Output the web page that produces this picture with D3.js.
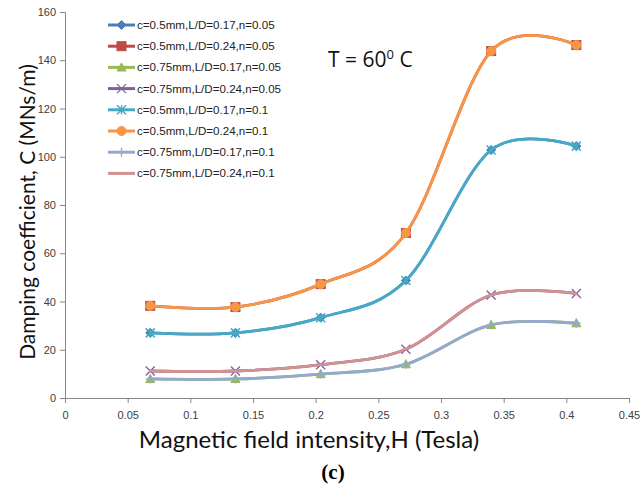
<!DOCTYPE html>
<html>
<head>
<meta charset="utf-8">
<script src="https://cdn.jsdelivr.net/npm/d3@7"></script>
<style>
  html, body { margin: 0; padding: 0; background: #fff; }
  svg { display: block; }
</style>
</head>
<body>
<svg id="chart" width="641" height="490"></svg>
<script>
// Magnetic field intensity H (Tesla)
const fieldH = [0.068, 0.136, 0.204, 0.272, 0.34, 0.408];

// Damping coefficient C (MNs/m) for each bearing configuration
const c05_ld017_n005 = [27.0, 27.0, 33.3, 48.7, 102.8, 104.4];
const c05_ld024_n005 = [38.2, 37.7, 47.2, 68.4, 143.8, 146.3];
const c075_ld017_n005 = [7.9, 7.9, 9.9, 14.0, 30.3, 31.0];
const c075_ld024_n005 = [11.2, 11.2, 13.8, 20.2, 42.7, 43.3];
const c05_ld017_n01 = [27.0, 27.0, 33.3, 48.7, 102.8, 104.4];
const c05_ld024_n01 = [38.2, 37.7, 47.2, 68.4, 143.8, 146.3];
const c075_ld017_n01 = [7.9, 7.9, 9.9, 14.0, 30.3, 31.0];
const c075_ld024_n01 = [11.2, 11.2, 13.8, 20.2, 42.7, 43.3];

const seriesNames = [
  "c=0.5mm,L/D=0.17,n=0.05",
  "c=0.5mm,L/D=0.24,n=0.05",
  "c=0.75mm,L/D=0.17,n=0.05",
  "c=0.75mm,L/D=0.24,n=0.05",
  "c=0.5mm,L/D=0.17,n=0.1",
  "c=0.5mm,L/D=0.24,n=0.1",
  "c=0.75mm,L/D=0.17,n=0.1",
  "c=0.75mm,L/D=0.24,n=0.1"
];
const seriesValues = [
  c05_ld017_n005, c05_ld024_n005, c075_ld017_n005, c075_ld024_n005,
  c05_ld017_n01, c05_ld024_n01, c075_ld017_n01, c075_ld024_n01
];

const xTicks = [0, 0.05, 0.1, 0.15, 0.2, 0.25, 0.3, 0.35, 0.4, 0.45];
const yTicks = [0, 20, 40, 60, 80, 100, 120, 140, 160];

const colors = ["#4A7EBB", "#BE4B48", "#98B954", "#7D60A0", "#46AAC5", "#F79646", "#93A9CF", "#D3918F"];
const markers = ["diamond", "square", "triangle", "x", "asterisk", "circle", "plus", "none"];

const svg = d3.select("#chart");
const plotLeft = 65, plotRight = 629, plotTop = 12, plotBottom = 398;

const x = d3.scaleLinear().domain([0, 0.45]).range([plotLeft, plotRight]);
const y = d3.scaleLinear().domain([0, 160]).range([plotBottom, plotTop]);

const axisColor = "#868686";
const tickFont = "Liberation Sans, Arial, sans-serif";
const titleFont = "Lato, Open Sans, sans-serif";

// Y axis
const yAxis = svg.append("g")
  .attr("transform", `translate(${plotLeft},0)`)
  .call(d3.axisLeft(y).tickValues(yTicks).tickFormat(d3.format("d")).tickSize(5).tickPadding(4));
// X axis
const xAxis = svg.append("g")
  .attr("transform", `translate(0,${plotBottom})`)
  .call(d3.axisBottom(x).tickValues(xTicks).tickFormat(d => d === 0 ? "0" : String(d)).tickSize(5).tickPadding(8));

[yAxis, xAxis].forEach(g => {
  g.select(".domain").attr("stroke", axisColor).attr("stroke-width", 1);
  g.selectAll(".tick line").attr("stroke", axisColor);
  g.selectAll(".tick text").attr("fill", "#404040").attr("font-size", 11).attr("font-family", tickFont);
});

// Marker shapes
function drawMarker(g, type, cx, cy, color) {
  const s = 4.5;
  if (type === "diamond") {
    g.append("path").attr("d", `M${cx},${cy - s}L${cx + s},${cy}L${cx},${cy + s}L${cx - s},${cy}Z`)
      .attr("fill", color).attr("stroke", color);
  } else if (type === "square") {
    g.append("rect").attr("x", cx - s).attr("y", cy - s).attr("width", 2 * s).attr("height", 2 * s)
      .attr("fill", color).attr("stroke", color);
  } else if (type === "triangle") {
    g.append("path").attr("d", `M${cx},${cy - s}L${cx + s},${cy + s * 0.8}L${cx - s},${cy + s * 0.8}Z`)
      .attr("fill", color).attr("stroke", color);
  } else if (type === "x") {
    g.append("path").attr("d", `M${cx - s},${cy - s}L${cx + s},${cy + s}M${cx - s},${cy + s}L${cx + s},${cy - s}`)
      .attr("stroke", color).attr("stroke-width", 1.3).attr("fill", "none");
  } else if (type === "asterisk") {
    g.append("path").attr("d", `M${cx - s},${cy - s}L${cx + s},${cy + s}M${cx - s},${cy + s}L${cx + s},${cy - s}M${cx},${cy - s}L${cx},${cy + s}`)
      .attr("stroke", color).attr("stroke-width", 1.5).attr("fill", "none");
  } else if (type === "circle") {
    g.append("circle").attr("cx", cx).attr("cy", cy).attr("r", s)
      .attr("fill", color).attr("stroke", color);
  } else if (type === "plus") {
    g.append("path").attr("d", `M${cx - s},${cy}L${cx + s},${cy}M${cx},${cy - s}L${cx},${cy + s}`)
      .attr("stroke", color).attr("stroke-width", 1.3).attr("fill", "none");
  }
}

// Smoothed series lines
const line = d3.line()
  .x((d, i) => x(fieldH[i]))
  .y(d => y(d))
  .curve(d3.curveCardinal.tension(0));

const plot = svg.append("g");
seriesValues.forEach((vals, k) => {
  const g = plot.append("g");
  g.append("path").datum(vals)
    .attr("d", line)
    .attr("fill", "none")
    .attr("stroke", colors[k])
    .attr("stroke-width", 2.8)
    .attr("stroke-linecap", "round")
    .attr("stroke-linejoin", "round");
  vals.forEach((v, i) => drawMarker(g, markers[k], x(fieldH[i]), y(v), colors[k]));
});

// Legend
const legend = svg.append("g");
seriesNames.forEach((name, k) => {
  const ly = 25 + k * 21.2;
  legend.append("line").attr("x1", 108).attr("x2", 135).attr("y1", ly).attr("y2", ly)
    .attr("stroke", colors[k]).attr("stroke-width", 3);
  drawMarker(legend, markers[k], 121.5, ly, colors[k]);
  legend.append("text").attr("x", 137).attr("y", ly + 4)
    .attr("font-family", tickFont).attr("font-size", 11.6).attr("fill", "#222")
    .text(name);
});

// Temperature note
const note = svg.append("text").attr("x", 328).attr("y", 67)
  .attr("font-family", "Open Sans, Liberation Sans, sans-serif").attr("font-size", 21).attr("fill", "#111");
note.append("tspan").text("T = 60");
note.append("tspan").attr("dy", -8).attr("font-size", 13).text("0");
note.append("tspan").attr("dy", 8).text(" C");

// Axis titles
svg.append("text")
  .attr("transform", `translate(35,212) rotate(-90)`)
  .attr("text-anchor", "middle")
  .attr("font-family", titleFont).attr("font-size", 21).attr("fill", "#111")
  .text("Damping coefficient, C (MNs/m)");

svg.append("text")
  .attr("x", 309).attr("y", 448)
  .attr("text-anchor", "middle")
  .attr("font-family", titleFont).attr("font-size", 24).attr("fill", "#111")
  .text("Magnetic field intensity,H (Tesla)");

svg.append("text")
  .attr("x", 333).attr("y", 479)
  .attr("text-anchor", "middle")
  .attr("font-family", "Liberation Serif, Times New Roman, serif").attr("font-size", 21)
  .attr("font-weight", "bold").attr("fill", "#000")
  .text("(c)");
</script>
</body>
</html>
